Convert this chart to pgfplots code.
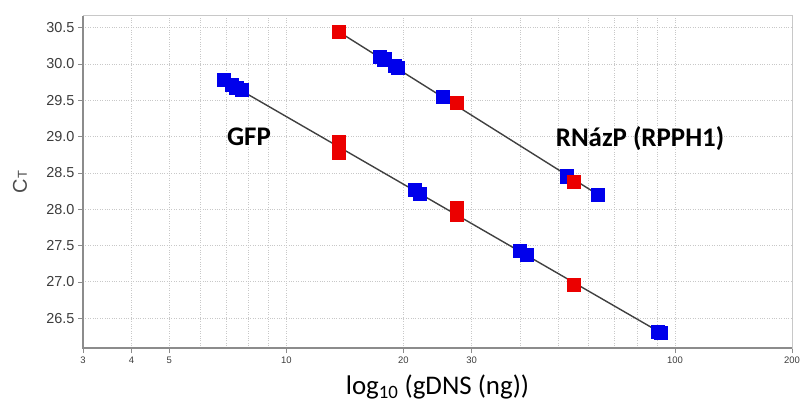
\documentclass[border=0pt]{standalone}
\usepackage{fontspec}
\setmainfont{Liberation Sans}
\newfontfamily\carlito{Carlito}
\usepackage{pgfplots}
\pgfplotsset{compat=1.18}
\definecolor{ptblue}{RGB}{0,0,235}
\definecolor{ptred}{RGB}{235,0,0}
\definecolor{fitline}{RGB}{64,64,64}
\definecolor{gridgray}{RGB}{200,200,200}
\definecolor{axgray}{RGB}{140,140,140}
\definecolor{tickgray}{RGB}{60,60,60}

\begin{document}
\begin{tikzpicture}
\begin{axis}[
    name=ax,
    scale only axis,
    width=709bp, height=332bp,
    xmode=log,
    xmin=3, xmax=200,
    ymin=26.09, ymax=30.66,
    log basis x=10,
    xtick={3,4,5,10,20,30,100,200},
    xticklabels={3,4,5,10,20,30,100,200},
    minor xtick={},
    extra x ticks={6,7,8,9,40,50,60,70,80,90},
    extra x tick labels={},
    extra x tick style={major tick length=0pt, grid=major},
    ytick={26.5,27,...,30.5},
    yticklabel style={/pgf/number format/fixed, /pgf/number format/fixed zerofill, /pgf/number format/precision=1},
    /pgf/number format/assume math mode=true,
    tick pos=left,
    tick align=outside,
    major tick length=5bp,
    tick style={axgray, line width=0.6bp},
    grid=major,
    grid style={gridgray, dotted, line width=0.8bp},
    axis line style={gridgray, line width=1bp},
    yticklabel style={font=\fontsize{14.5}{16}\selectfont, text=tickgray},
    xticklabel style={font=\fontsize{9.5}{11}\selectfont, text=tickgray},
    xlabel={\carlito log\textsubscript{10} (gDNS (ng))},
    xlabel style={font=\fontsize{27}{31}\selectfont, at={(axis description cs:0.5,0)}, anchor=center, yshift=-39bp},
    ylabel={C{\fontsize{13}{13}\selectfont T}},
    ylabel style={font=\fontsize{20}{22}\selectfont, text=black!70, at={(axis description cs:0,0.5)}, anchor=center, yshift=63bp},
    clip=false,
]
% fit lines
\addplot[fitline, line width=1.4bp, mark=none] coordinates {(6.92,29.77) (91.2,26.31)};
\addplot[fitline, line width=1.4bp, mark=none] coordinates {(13.67,30.44) (63.4,28.20)};
% GFP blue
\addplot[only marks, mark=square*, mark size=6.6bp, mark options={fill=ptblue, draw=ptblue, line width=0pt}] coordinates {
    (6.92,29.78) (7.25,29.71) (7.45,29.67) (7.7,29.64)
    (21.4,28.27) (22.1,28.21)
    (39.9,27.43) (41.6,27.37)
    (90.5,26.31) (92,26.30)
};
% RNazP blue
\addplot[only marks, mark=square*, mark size=6.6bp, mark options={fill=ptblue, draw=ptblue, line width=0pt}] coordinates {
    (17.4,30.10) (17.9,30.06) (19.0,29.97) (19.4,29.94)
    (25.3,29.55) (52.8,28.45) (63.4,28.20)
};
% GFP red
\addplot[only marks, mark=square*, mark size=6.6bp, mark options={fill=ptred, draw=ptred, line width=0pt}] coordinates {
    (13.67,28.93) (13.67,28.78) (27.5,28.02) (27.5,27.92) (55,26.96)
};
% RNazP red
\addplot[only marks, mark=square*, mark size=6.6bp, mark options={fill=ptred, draw=ptred, line width=0pt}] coordinates {
    (13.67,30.44) (27.5,29.46) (55,28.38)
};
\node[font=\carlito\bfseries\fontsize{27}{31}\selectfont] at (axis cs:8.02,29.0) {GFP};
\node[font=\carlito\bfseries\fontsize{27}{31}\selectfont] at (axis cs:81.3,28.97) {RNázP (RPPH1)};
\draw[axgray, line width=1.2bp] (axis description cs:0,1) -- (axis description cs:0,0) -- (axis description cs:1,0);
\end{axis}
\pgfresetboundingbox
\path ([xshift=-83bp,yshift=-57bp]ax.south west) rectangle ([xshift=10bp,yshift=16bp]ax.north east);
\end{tikzpicture}
\end{document}
